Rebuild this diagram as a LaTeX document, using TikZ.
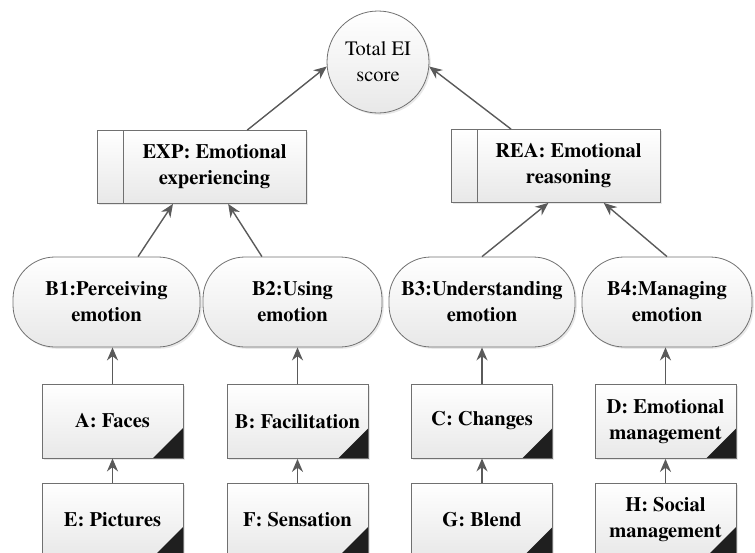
\documentclass[tikz,border=0pt]{standalone}
\usepackage{fontspec}
\setmainfont{texgyretermes}[Extension=.otf, UprightFont=*-regular, BoldFont=*-bold, ItalicFont=*-italic, BoldItalicFont=*-bolditalic]
\usetikzlibrary{arrows.meta,shadows,calc}
\definecolor{edgegray}{HTML}{707070}
\definecolor{arrowgray}{HTML}{5A5A5A}
\begin{document}
\begin{tikzpicture}[x=1pt,y=-1pt,
  txt/.style={font=\fontsize{20.5}{26}\selectfont\bfseries, align=center},
  base/.style={draw=edgegray, line width=0.8pt, top color=white, bottom color=black!9,
    drop shadow={shadow xshift=1.8pt,shadow yshift=-1.8pt,opacity=0.18},
    txt, inner sep=0pt},
  scorecircle/.style={base, circle, minimum size=102pt, font=\fontsize{20.5}{26}\selectfont},
  factorbox/.style={base, rectangle, minimum width=209pt, minimum height=73pt,
    path picture={\draw[edgegray, line width=0.8pt]
      ([xshift=26pt]path picture bounding box.north west) --
      ([xshift=26pt]path picture bounding box.south west);}},
  branchcap/.style={base, rectangle, rounded corners=42pt, minimum height=90pt},
  taskbox/.style={base, rectangle, minimum width=141pt, minimum height=74pt,
    path picture={\fill[black!88]
      (path picture bounding box.south east) -- ++(-30pt,0pt) -- ++(30pt,30pt) -- cycle;}},
  arr/.style={draw=arrowgray, line width=1.4pt, -{Stealth[length=13pt,width=11pt]}}
]
\useasboundingbox (0,0) rectangle (755,552);
\clip (0,0) rectangle (755,552);

% top
\node[scorecircle] (tot) at (378,62) {Total EI\\score};

% factors
\node[factorbox, label={[txt, xshift=13pt]center:EXP: Emotional\\experiencing}] (exp) at (201.5,167) {};
\node[factorbox, label={[txt, xshift=13pt]center:REA: Emotional\\reasoning}] (rea) at (555.5,166) {};

% branches
\node[branchcap, minimum width=187pt] (b1) at (106.5,302) {B1:Perceiving\\emotion};
\node[branchcap, minimum width=179pt] (b2) at (292.5,302) {B2:Using\\emotion};
\node[branchcap, minimum width=186pt] (b3) at (482,302) {B3:Understanding\\emotion};
\node[branchcap, minimum width=170pt] (b4) at (667,302) {B4:Managing\\emotion};

% tasks
\node[taskbox] (ta) at (112.5,421) {A: Faces};
\node[taskbox] (tb) at (297.5,421.5) {B: Facilitation};
\node[taskbox] (tc) at (482,421) {C: Changes};
\node[taskbox] (td) at (665.5,421.5) {D: Emotional\\management};
\node[taskbox] (te) at (112.5,520) {E: Pictures};
\node[taskbox] (tf) at (297.5,520) {F: Sensation};
\node[taskbox] (tg) at (482,520) {G: Blend};
\node[taskbox] (th) at (665.5,520) {H: Social\\management};

% connectors: factors -> total
\draw[arr] ($(exp.north west)!0.718!(exp.north east)$) -- (tot.185);
\draw[arr] ($(rea.north west)!0.288!(rea.north east)$) -- (tot.-5);

% branches -> factors
\draw[arr] ($(b1.north west)!0.668!(b1.north east)$) -- ($(exp.south west)!0.364!(exp.south east)$);
\draw[arr] ($(b2.north west)!0.33!(b2.north east)$) -- ($(exp.south west)!0.627!(exp.south east)$);
\draw[arr] (b3.north) -- ($(rea.south west)!0.466!(rea.south east)$);
\draw[arr] (b4.north) -- ($(rea.south west)!0.73!(rea.south east)$);

% tasks -> branches
\draw[arr] (ta.north) -- (ta.north |- b1.south);
\draw[arr] (tb.north) -- (tb.north |- b2.south);
\draw[arr] (tc.north) -- (tc.north |- b3.south);
\draw[arr] (td.north) -- (td.north |- b4.south);

% lower tasks -> upper tasks
\draw[arr] (te.north) -- (ta.south);
\draw[arr] (tf.north) -- (tb.south);
\draw[arr] (tg.north) -- (tc.south);
\draw[arr] (th.north) -- (td.south);
\end{tikzpicture}
\end{document}
